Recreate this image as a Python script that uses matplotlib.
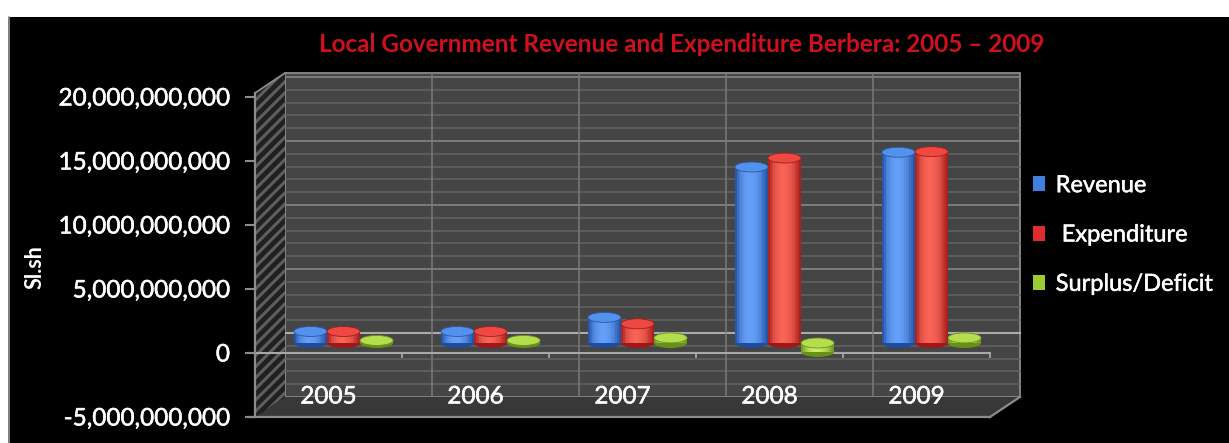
import matplotlib
matplotlib.use("Agg")
import matplotlib.pyplot as plt
import matplotlib.transforms as mtransforms
import matplotlib.patheffects as pe
from matplotlib.patches import Rectangle, Polygon, Ellipse
from matplotlib.ticker import FuncFormatter
import numpy as np

# ---- data -------------------------------------------------------------
years = ["2005", "2006", "2007", "2008", "2009"]
revenue = [0.9e9, 0.9e9, 2.0e9, 13.75e9, 14.9e9]
expenditure = [0.9e9, 0.9e9, 1.5e9, 14.45e9, 14.95e9]
surplus = [0.2e9, 0.2e9, 0.4e9, -0.7e9, 0.4e9]
series_names = ["Revenue", " Expenditure", "Surplus/Deficit"]
y_ticks = [-5e9, 0, 5e9, 10e9, 15e9, 20e9]
title = "Local Government Revenue and Expenditure Berbera: 2005 \u2013 2009"
y_label = "Sl.sh"

# ---- styling ----------------------------------------------------------
plt.rcParams["font.family"] = ["Lato", "DejaVu Sans"]
plt.rcParams["hatch.linewidth"] = 2.2
thicken = [pe.withStroke(linewidth=0.35, foreground="white")]

W, H = 1229, 443
fig = plt.figure(figsize=(W / 100, H / 100), dpi=100, facecolor="black")

# white page margin at top and left
fig.patches.append(Rectangle((0, 1 - 17 / H), 1, 17 / H, transform=fig.transFigure,
                             facecolor="white", edgecolor="none", zorder=-10))
fig.patches.append(Rectangle((0, 0), 8 / W, 1, transform=fig.transFigure,
                             facecolor="white", edgecolor="none", zorder=-10))
fig.lines.append(plt.Line2D([8.5 / W, 8.5 / W], [0, 1 - 17 / H], transform=fig.transFigure,
                            color="#9a9a9a", lw=1.2))

ax = fig.add_axes([255 / W, 26 / H, 735 / W, 320 / H])
ax.set_xlim(-0.5, 4.5)
ax.set_ylim(-5e9, 20e9)
ax.patch.set_visible(False)

# depth of the pseudo-3D box, in pixels
DEPTH_X, DEPTH_Y = 30, 20
px_x = 735 / 5.0
px_y = 320 / 25e9
dxd = DEPTH_X / px_x
dyd = DEPTH_Y / px_y


def back(x, y, f=1.0):
    return (x + f * dxd, y + f * dyd)


ymin, ymax = -5e9, 20e9
ytop = ymax + 4 / px_y
xmin, xmax = -0.5, 4.5

# back wall
ax.add_patch(Polygon([back(xmin, ymin), back(xmax, ymin), back(xmax, ytop), back(xmin, ytop)],
                     closed=True, facecolor="#454545", edgecolor="#8c8c8c", lw=1.3,
                     clip_on=False, zorder=0))
# floor
ax.add_patch(Polygon([(xmin, ymin), (xmax, ymin), back(xmax, ymin), back(xmin, ymin)],
                     closed=True, facecolor="#383838", edgecolor="none", clip_on=False, zorder=0.5))
# left side wall with diagonal hatching
ax.add_patch(Polygon([(xmin, ymin), (xmin, ytop), back(xmin, ytop), back(xmin, ymin)],
                     closed=True, facecolor="#202020", edgecolor="#5e5e5e", lw=0,
                     hatch="///", clip_on=False, zorder=0.6))

# horizontal gridlines on the back wall
for v in np.arange(ymin, ymax + 1, 1e9):
    if abs(v) < 1:
        col, lw = "#ababab", 1.5
    elif abs(v % 5e9) < 1:
        col, lw = "#808080", 1.3
    else:
        col, lw = "#646464", 1.1
    (x0, y0), (x1, y1) = back(xmin, v), back(xmax, v)
    ax.plot([x0, x1], [y0, y1], color=col, lw=lw, clip_on=False, zorder=0.4)

# vertical gridlines on the back wall at category boundaries
for b in np.arange(0.5, 4.5, 1.0):
    (x0, y0), (x1, y1) = back(b, ymin), back(b, ytop)
    ax.plot([x0, x1], [y0, y1], color="#7a7a7a", lw=1.1, clip_on=False, zorder=0.45)

# outline of the box
edge = "#8c8c8c"
ax.plot([xmin - 0.05, xmax], [ymin, ymin], color=edge, lw=1.6, clip_on=False, zorder=1)
bx, by = back(xmax, ymin)
ax.plot([xmax, bx], [ymin, by], color=edge, lw=1.6, clip_on=False, zorder=1)
tx, ty = back(xmin, ytop)
ax.plot([xmin, tx], [ytop, ty], color=edge, lw=1.3, clip_on=False, zorder=1)

# front zero line with category tick marks
ax.plot([xmin - 0.05, xmax], [0, 0], color="#a8a8a8", lw=1.5, clip_on=False, zorder=1)
for b in np.arange(0.5, 5.0, 1.0):
    ax.plot([b, b], [0, -0.35e9], color="#a8a8a8", lw=1.3, clip_on=False, zorder=1)

# y axis
for s in ["top", "right", "bottom"]:
    ax.spines[s].set_visible(False)
ax.spines["left"].set_color(edge)
ax.spines["left"].set_linewidth(1.6)
ax.spines["left"].set_bounds(ymin, ytop)
ax.set_yticks(y_ticks)
ax.yaxis.set_major_formatter(FuncFormatter(lambda v, p: f"{v:,.0f}"))
ax.tick_params(axis="y", colors=edge, length=7, width=1.5, labelcolor="white",
               labelsize=17.5, pad=11)
for lab in ax.get_yticklabels():
    lab.set_path_effects(thicken)
ax.set_xticks([])

# category labels on the floor
lab_tr = mtransforms.offset_copy(ax.transData, fig=fig, x=0, y=20, units="dots")
for i, yr in enumerate(years):
    ax.text(i, ymin, yr, transform=lab_tr, ha="center", va="center",
            color="white", fontsize=17.5, zorder=5, path_effects=thicken)

# ---- cylinder bars ------------------------------------------------------
bar_tr = mtransforms.offset_copy(ax.transData, fig=fig, x=15, y=10, units="dots")
bar_w = 0.225
ell_h = 10 / px_y
N_STRIPS = 18

palettes = [
    ("#1a4698", "#3f7fe0", "#6aa6ff"),   # blue
    ("#9a1414", "#e02c2c", "#ff6a5a"),   # red
    ("#5f8a14", "#9ccc34", "#d2f46a"),   # green
]


def hex2rgb(h):
    return np.array([int(h[i:i + 2], 16) / 255 for i in (1, 3, 5)])


def shade(dark, light, t):
    # brighter slightly left of centre, darker towards the edges
    i = np.clip(np.sin(np.pi * t) ** 0.7 * (1.05 - 0.25 * t), 0, 1)
    return dark + (light - dark) * i


all_series = [revenue, expenditure, surplus]
offsets = [-bar_w, 0.0, bar_w]
for i in range(len(years)):
    for s, vals in enumerate(all_series):
        v = vals[i]
        xc = i + offsets[s]
        dark, mid, light = (hex2rgb(c) for c in palettes[s])
        top, bot = max(v, 0.0), min(v, 0.0)
        z = 3 + s * 0.1
        # bottom cap
        ax.add_patch(Ellipse((xc, bot), bar_w, ell_h, transform=bar_tr,
                             facecolor=dark * 0.9 + mid * 0.1, edgecolor="none", zorder=z))
        # body drawn as shaded vertical strips
        sw = bar_w / N_STRIPS
        for k in range(N_STRIPS):
            t = (k + 0.5) / N_STRIPS
            ax.bar(xc - bar_w / 2 + (k + 0.5) * sw, v, width=sw * 1.05, bottom=0,
                   color=shade(dark, light, t), lw=0, transform=bar_tr, zorder=z + 0.01)
        # top cap
        ax.add_patch(Ellipse((xc, top), bar_w, ell_h, transform=bar_tr,
                             facecolor=mid * 0.55 + light * 0.45, edgecolor=mid * 0.7,
                             lw=0.6, zorder=z + 0.02))

# ---- titles and legend ------------------------------------------------
fig.text(682 / W, 1 - 45 / H, title, ha="center", va="center", color="#d0101c",
         fontsize=17.5, fontweight="bold")
fig.text(35 / W, 1 - 267 / H, y_label, ha="center", va="center", rotation=90,
         color="white", fontsize=15.5, fontweight="bold")

handles = [Rectangle((0, 0), 1, 1, facecolor=p[1], edgecolor="none") for p in palettes]
leg = fig.legend(handles, series_names, loc="center left",
                 bbox_to_anchor=(1012 / W, 1 - 235 / H), frameon=False,
                 fontsize=17, labelcolor="white", handlelength=0.5, handleheight=0.6,
                 handletextpad=0.45, labelspacing=1.2)
for t in leg.get_texts():
    t.set_path_effects(thicken)

fig.savefig("out.png", dpi=100, facecolor=fig.get_facecolor())
